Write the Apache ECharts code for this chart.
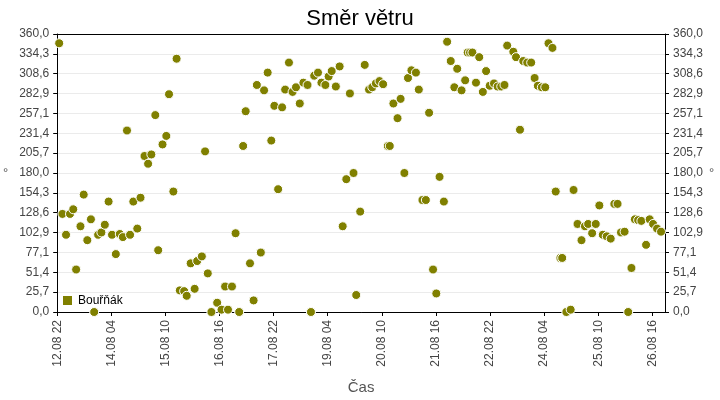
<!DOCTYPE html>
<html>
<head>
<meta charset="utf-8">
<script src="https://cdn.jsdelivr.net/npm/echarts@6/dist/echarts.min.js"></script>
<style>
  html, body { margin: 0; padding: 0; background: #fff; }
  #wind { width: 720px; height: 400px; }
</style>
</head>
<body>
<div id="wind"></div>
<script>
	// hodiny od 12.08 22:00
	var hours = [1.1,2.9,4.9,7.1,8.9,10.5,12.9,14.7,16.7,18.7,20.5,22.7,24.5,26.4,28.5,30.4,32.5,34.7,36.4,38.7,
		40.4,42.2,44.4,46.2,48.4,50.4,52.2,54.4,56,58.4,60.5,62,64.4,66.2,68,70.4,71.8,74,76.2,77.6,
		80.2,82,83.5,85.5,88.7,91.1,93.1,94.7,96.9,98.9,100.9,103.1,104.5,106.9,108.9,110.7,112.9,114.7,116.7,118.7,
		120.4,122.5,124.7,126.4,128.5,130.5,132.4,134.5,136.5,138.8,140.7,142.5,144.6,146.5,148.7,150.5,152.2,154.5,156.6,158.3,
		160.3,162.3,164.3,165.8,168,170.5,172.9,174.7,176.7,178.7,180.7,183.3,184.4,186.4,188.7,190.4,192.5,194.5,196.4,198.9,
		200.5,202.5,204.4,206.2,208.4,210.2,212,214.4,216.2,218.2,220.2,221.8,224.2,226.2,227.6,228.9,230.2,232.2,234,236,
		237.8,239.8,242.2,244.2,246.2,248,249.5,252.9,254.4,256.6,258.4,260.6,262.8,264.7,266.5,268.7,270.6,272.4,274.6,276.4,
		279,280,282.3,284.7,286.3,288.5,290.7,292.6,294.4,296.6,298.6,300.6,302.5,304.7,306.9,308.9,310.7,312.6,314.6,316.6,
		318.4,320.3,322.1,323.9,326.5,328.5,330.4,332.6,334.8];
	var dirs = [348,127,100,127,133,55,111,152,93,120,0,100,103,113,143,100,75,101,97,235,
		100,143,108,148,202,192,204,255,80,217,228,282,156,328,28,27,21,63,30,66,
		72,208,50,0,12,3,33,3,33,102,0,215,260,63,15,294,77,287,310,222,
		267,159,265,288,323,285,291,270,297,294,0,306,310,297,294,305,312,292,318,111,
		172,283,180,22,130,320,288,291,296,299,295,215,215,270,251,276,180,303,313,310,
		288,145,145,258,55,24,175,143,350,325,291,315,287,300,336,336,336,297,330,285,
		312,293,296,292,292,294,345,337,330,236,325,323,323,303,293,291,291,348,342,156,
		70,70,0,3,158,114,93,111,114,102,114,138,100,98,95,140,140,103,104,0,
		57,120,119,118,87,120,114,108,104];

	var start = new Date(2023, 7, 12, 22, 0, 0);
	var pts = [];
	for (var i = 0; i < hours.length; i++) {
		pts.push([hours[i], dirs[i]]);
	}

	function pad(n) { return (n < 10 ? '0' : '') + n; }
	function timeLabel(h) {
		var d = new Date(start.getTime() + Math.round(h * 3600000));
		return pad(d.getDate()) + '.' + pad(d.getMonth() + 1) + ' ' + pad(d.getHours());
	}
	function degLabel(v) {
		return v.toFixed(1).replace('.', ',');
	}

	var font = 'Liberation Sans, Arial, sans-serif';
	var yBase = {
		type: 'value',
		min: 0,
		max: 360,
		interval: 360 / 14,
		name: '°',
		nameLocation: 'middle',
		nameRotate: 0,
		nameTextStyle: { color: '#555', fontSize: 13, fontFamily: font },
		axisLine: { show: true, lineStyle: { color: '#000' } },
		axisTick: { show: true, length: 4, lineStyle: { color: '#000' } },
		axisLabel: { color: '#444', fontSize: 12, fontFamily: font, formatter: degLabel }
	};

	var myChart = echarts.init(document.getElementById('wind'));
	var option = {
		animation: false,
		title: {
			text: 'Směr větru',
			left: 'center',
			top: 3,
			textStyle: { color: '#000', fontSize: 22, fontWeight: 'normal', fontFamily: font }
		},
		legend: {
			data: ['Bouřňák'],
			left: 56,
			bottom: 88,
			icon: 'rect',
			itemWidth: 11,
			itemHeight: 11,
			itemGap: 6,
			textStyle: { color: '#000', fontSize: 12, fontFamily: font }
		},
		grid: { left: 55, right: 55, top: 34, bottom: 86 },
		xAxis: {
			type: 'value',
			min: 0,
			max: 337,
			interval: 30,
			name: 'Čas',
			nameLocation: 'middle',
			nameGap: 68,
			nameTextStyle: { color: '#555', fontSize: 15, fontFamily: font },
			splitLine: { show: false },
			axisLine: { lineStyle: { color: '#000' } },
			axisTick: { length: 4, lineStyle: { color: '#000' } },
			axisLabel: {
				rotate: 90,
				showMaxLabel: false,
				color: '#444',
				fontSize: 12,
				fontFamily: font,
				formatter: timeLabel
			}
		},
		yAxis: [
			Object.assign({}, yBase, {
				position: 'left',
				nameGap: 49,
				splitLine: { show: true, lineStyle: { color: '#ebebeb' } }
			}),
			Object.assign({}, yBase, {
				position: 'right',
				nameGap: 32,
				splitLine: { show: false }
			})
		],
		series: [
			{
				name: 'Bouřňák',
				type: 'scatter',
				symbolSize: 9,
				itemStyle: { color: '#808000', borderColor: '#fff', borderWidth: 1, opacity: 1 },
				data: pts
			}
		]
	};
	myChart.setOption(option);

	// horní okraj grafu
	myChart.setOption({
		graphic: [{
			type: 'line',
			shape: { x1: 55, y1: 34.5, x2: 665, y2: 34.5 },
			style: { stroke: '#000', lineWidth: 1 }
		}]
	});
</script>
</body>
</html>
